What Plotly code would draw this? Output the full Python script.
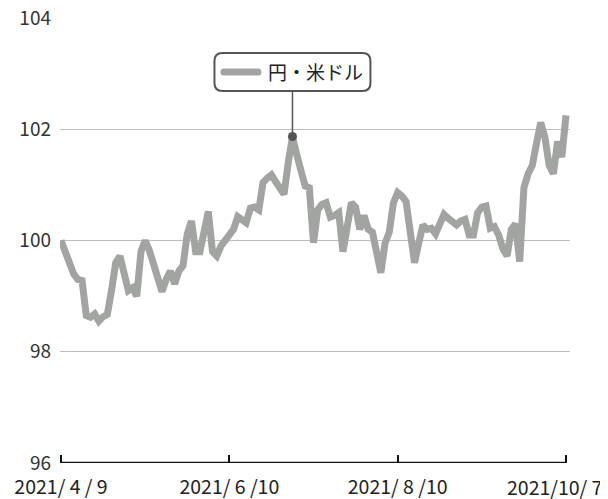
import pandas as pd
import plotly.graph_objects as go

# Japanese trading days between 2021-04-09 and 2021-10-07 (holidays excluded)
jp_holidays = ["2021-04-29", "2021-05-03", "2021-05-04", "2021-05-05",
               "2021-07-22", "2021-07-23", "2021-08-09", "2021-09-20", "2021-09-23"]
dates = [d.strftime("%Y-%m-%d") for d in
         pd.bdate_range("2021-04-09", "2021-10-07", freq="C", holidays=jp_holidays)]

# 円・米ドル (yen per dollar)
usdjpy = [
    100.00, 99.80, 99.58, 99.40, 99.30, 99.28, 98.65, 98.62, 98.68, 98.55,
    98.63, 98.67, 99.10, 99.60, 99.72, 99.45, 99.10, 99.15, 99.00, 99.80,
    100.00, 99.82, 99.55, 99.30, 99.08, 99.30, 99.45, 99.22, 99.45, 99.55,
    100.12, 100.35, 99.80, 99.80, 100.20, 100.52, 99.80, 99.72, 99.90, 100.00,
    100.05, 100.20, 100.43, 100.38, 100.32, 100.58, 100.60, 100.55, 101.04, 101.12,
    101.18, 101.06, 100.92, 100.83, 101.40, 101.87, 101.55, 101.20, 100.98, 100.95,
    99.96, 100.55, 100.65, 100.68, 100.42, 100.45, 100.50, 99.80, 100.30, 100.68,
    100.60, 100.20, 100.45, 100.20, 100.15, 99.80, 99.42, 99.95, 100.15, 100.68,
    100.86, 100.80, 100.70, 100.15, 99.60, 99.95, 100.28, 100.20, 100.22, 100.12,
    100.30, 100.47, 100.40, 100.32, 100.28, 100.35, 100.38, 100.10, 100.10, 100.50,
    100.60, 100.62, 100.22, 100.25, 100.10, 99.85, 99.72, 100.20, 100.30, 99.62,
    100.95, 101.20, 101.35, 101.75, 102.12, 101.85, 101.35, 101.20, 101.78, 101.50,
    102.25,
]
n = min(len(dates), len(usdjpy))
dates = dates[:n]
usdjpy = usdjpy[:n]

series_name = "円・米ドル"
tick_dates = ["2021-04-09", "2021-06-10", "2021-08-10", "2021-10-07"]
tick_labels = ["2021/ 4 / 9", "2021/ 6 /10", "2021/ 8 /10", "2021/10/ 7"]
y_ticks = [96, 98, 100, 102, 104]
callout_date = "2021-07-01"

FONT = "Noto Sans CJK JP, Noto Sans, sans-serif"
LINE_COLOR = "#a2a4a2"
DARK = "#555555"

fig = go.Figure()
fig.add_trace(go.Scatter(
    x=dates, y=usdjpy, mode="lines", name=series_name,
    line=dict(color=LINE_COLOR, width=7), showlegend=False, hoverinfo="x+y",
))

# baseline axis
fig.add_shape(type="line", xref="x", yref="y", x0=dates[0], x1=dates[-1],
              y0=96, y1=96, line=dict(color="#111111", width=2.5), layer="above")

# callout anchored at the annotated point
ci = dates.index(callout_date)
ax_, ay_ = dates[ci], usdjpy[ci]
box = ("M -70,45.5 L 70,45.5 Q 78,45.5 78,53.5 L 78,75.5 Q 78,83.5 70,83.5 "
       "L -70,83.5 Q -78,83.5 -78,75.5 L -78,53.5 Q -78,45.5 -70,45.5 Z")
common = dict(xref="x", yref="y", xsizemode="pixel", ysizemode="pixel",
              xanchor=ax_, yanchor=ay_, layer="above")
fig.add_shape(type="line", x0=0, x1=0, y0=0, y1=45.5,
              line=dict(color=DARK, width=1.5), **common)
fig.add_shape(type="path", path=box, fillcolor="white",
              line=dict(color=DARK, width=2), **common)
swatch = ("M -68.5,61 L -34.5,61 Q -31,61 -31,64.5 Q -31,68 -34.5,68 "
          "L -68.5,68 Q -72,68 -72,64.5 Q -72,61 -68.5,61 Z")
fig.add_shape(type="path", path=swatch, fillcolor=LINE_COLOR,
              line=dict(width=0), **common)
fig.add_shape(type="circle", x0=-4.5, x1=4.5, y0=-4.5, y1=4.5,
              fillcolor=DARK, line=dict(width=0), **common)
fig.add_annotation(x=ax_, y=ay_, xref="x", yref="y", text=series_name,
                   showarrow=False, xanchor="left", yanchor="middle",
                   xshift=-26, yshift=65,
                   font=dict(family=FONT, size=19, color="#222222"))

# the last date label is kept inside the page, right-aligned near its tick
shown_ticktext = tick_labels[:-1] + [""]
fig.add_annotation(x=tick_dates[-1], y=0, xref="x", yref="paper",
                   text=tick_labels[-1], showarrow=False,
                   xanchor="right", yanchor="middle", xshift=38, yshift=-23,
                   font=dict(family=FONT, size=19.5, color="#222222"))

# page body has an 8px margin: figure is 600x491 placed at (8, 8)
fig.update_layout(
    width=600, height=491,
    margin=dict(l=52, r=38, t=10, b=36),
    paper_bgcolor="white", plot_bgcolor="white",
    font=dict(family=FONT, size=19, color="#333333"),
    xaxis=dict(
        type="category", range=[-0.24, n - 1 + 0.95], automargin=False,
        tickmode="array", tickvals=tick_dates, ticktext=shown_ticktext,
        ticks="inside", ticklen=8, tickwidth=2, tickcolor="#111111",
        showgrid=False, showline=False, zeroline=False,
        tickfont=dict(family=FONT, size=19.5, color="#222222"),
        ticklabelstandoff=10, ticklabeloverflow="allow",
    ),
    yaxis=dict(
        range=[96, 104], tickmode="array", tickvals=y_ticks, automargin=False,
        showgrid=True, gridcolor="#bdbdbd", gridwidth=1,
        zeroline=False, showline=False, ticks="",
        tickfont=dict(family=FONT, size=19, color="#333333"),
        ticklabelstandoff=8, ticklabeloverflow="allow",
    ),
)

fig.write_html("out.html")
